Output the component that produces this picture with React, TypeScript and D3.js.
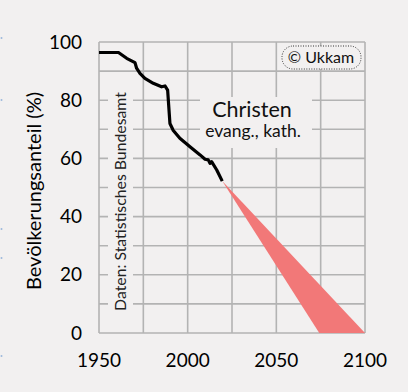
import React from "react";
import * as d3 from "d3";

const histYears = [1950, 1961, 1965.6, 1970.3, 1971.2, 1973.1, 1975.9, 1980.6, 1985.3, 1987.2, 1988.7, 1990, 1991.9, 1995.6, 2001.3, 2007, 2009.8, 2011.6, 2012.6, 2013.5, 2016.4, 2019.5];
const histValues = [96.4, 96.4, 94.4, 92.9, 91, 89.2, 87.5, 85.8, 84.6, 84.9, 83.5, 72, 69.6, 66.9, 64, 61.2, 59.7, 59.5, 58.3, 58.9, 56, 52.2];

const projLevels = [52.2, 0];
const projFastYears = [2019.5, 2074.2];
const projSlowYears = [2019.5, 2100];

const xTickValues = [1950, 2000, 2050, 2100];
const xGridValues = [1950, 1975, 2000, 2025, 2050, 2075, 2100];
const yTickValues = [0, 20, 40, 60, 80, 100];
const yGridValues = [0, 10, 20, 30, 40, 50, 60, 70, 80, 90, 100];
const dotMarksY = [38, 100, 229, 258, 356];

const W = 408, H = 392;
const BG = "#f2f0f0";
const GRID = "#b3b3b3";
const FONT = "Lato, 'Open Sans', sans-serif";

export default function App() {
  const x = d3.scaleLinear().domain([1950, 2100]).range([99, 365]);
  const y = d3.scaleLinear().domain([0, 100]).range([333, 42]);

  const linePath = d3.line<number>()
    .x((_, i) => x(histYears[i]))
    .y((d) => y(d))(histValues) || "";

  const areaPath = d3.area<number>()
    .y((d) => y(d))
    .x0((_, i) => x(projFastYears[i]))
    .x1((_, i) => x(projSlowYears[i]))(projLevels) || "";

  return (
    <svg width={W} height={H} style={{ position: "absolute", left: 0, top: 0, background: BG }} fontFamily={FONT}>
      <rect x={0} y={0} width={W} height={H} fill={BG} />
      {dotMarksY.map((d, i) => (
        <circle key={i} cx={1.5} cy={d} r={1} fill="#9db8dc" />
      ))}
      {/* grid */}
      {yGridValues.map((v) => (
        <line key={"h" + v} x1={x(1950)} x2={x(2100)} y1={y(v)} y2={y(v)} stroke={GRID} strokeWidth={1.6} />
      ))}
      {xGridValues.map((v) => (
        <line key={"v" + v} x1={x(v)} x2={x(v)} y1={y(0)} y2={y(100)} stroke={GRID} strokeWidth={1.6} />
      ))}
      {/* label boxes covering grid */}
      <rect x={108} y={85} width={25} height={233} fill={BG} />
      <rect x={200} y={97} width={112} height={51} fill={BG} />
      <rect x={282} y={46} width={79} height={23} rx={11} ry={11} fill={BG} stroke="#333" strokeWidth={1} strokeDasharray="1 1.5" />
      <text x={321} y={63} fontSize={16} textAnchor="middle" fill="#111">© Ukkam</text>

      {/* projection */}
      <path d={areaPath} fill="#f27878" />
      {/* history line */}
      <path d={linePath} fill="none" stroke="#000" strokeWidth={3.2} strokeLinejoin="round" />

      {/* annotations */}
      <text x={252} y={117} fontSize={21.5} textAnchor="middle" fill="#111">Christen</text>
      <text x={253} y={137} fontSize={17.5} textAnchor="middle" fill="#111">evang., kath.</text>
      <text transform="translate(126,201.5) rotate(-90)" fontSize={15.8} textAnchor="middle" fill="#222">Daten: Statistisches Bundesamt</text>

      {/* axis labels */}
      {yTickValues.map((v) => (
        <text key={"yt" + v} x={82} y={y(v)} dy="0.35em" fontSize={19} textAnchor="end" fill="#000">{v}</text>
      ))}
      {xTickValues.map((v) => (
        <text key={"xt" + v} x={x(v)} y={367} fontSize={19} textAnchor="middle" fill="#000">{v}</text>
      ))}
      <text transform="translate(41,191) rotate(-90)" fontSize={20} textAnchor="middle" fill="#000">Bevölkerungsanteil (%)</text>
    </svg>
  );
}
